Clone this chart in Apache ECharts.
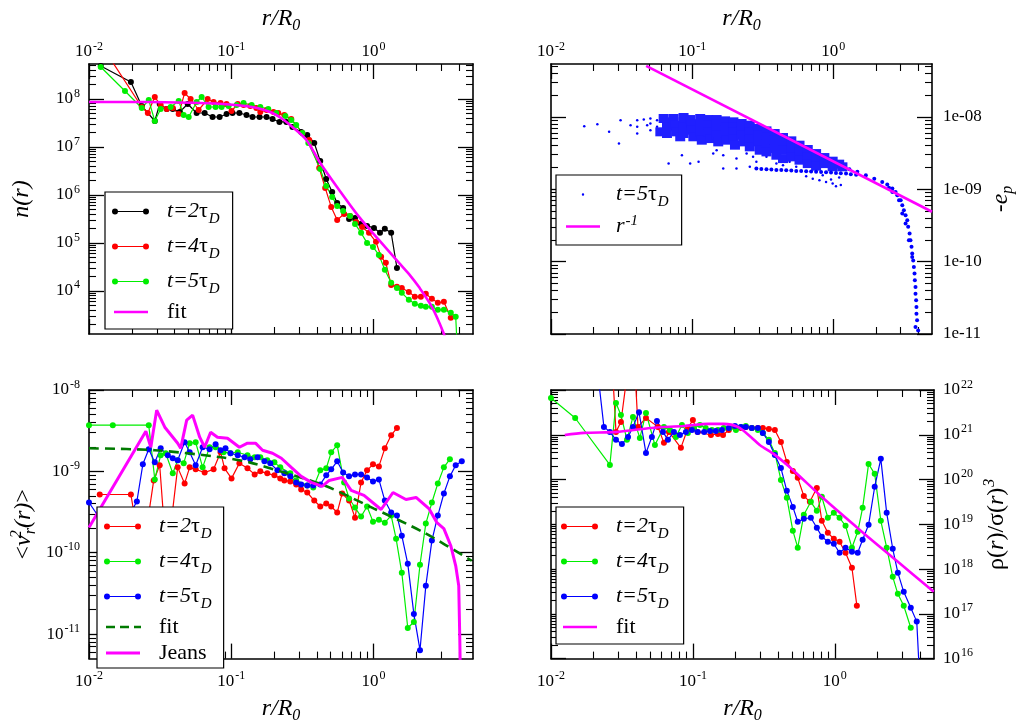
<!DOCTYPE html>
<html>
<head>
<meta charset="utf-8">
<script src="https://cdn.jsdelivr.net/npm/echarts@6/dist/echarts.min.js"></script>
<style>
  html, body { margin: 0; padding: 0; background: #fff; }
  #chart { width: 1017px; height: 725px; }
</style>
</head>
<body>
<div id="chart"></div>
<script>
// ---- data: [r/R0, value] ----
// top left: n(r)
const nT2 = [[0.0121,4.87e8],[0.0197,2.26e8],[0.0235,7.15e7],[0.029,3.48e7],[0.0314,7.87e7],[0.0352,6.19e7],[0.0388,6.19e7],[0.0434,5.36e7],[0.0494,7.87e7],[0.0571,5.11e7],[0.065,5.11e7],[0.0739,4.22e7],[0.0828,4.22e7],[0.0927,4.87e7],[0.102,5.11e7],[0.114,5.11e7],[0.128,4.64e7],[0.141,4.22e7],[0.158,4.22e7],[0.177,4.22e7],[0.195,3.83e7],[0.218,3.32e7],[0.244,3.32e7],[0.269,2.61e7],[0.310,2.05e7],[0.342,1.78e7],[0.383,1.21e7],[0.422,5.1e6],[0.465,2.15e6],[0.512,1.15e6],[0.555,6.81e5],[0.611,5.36e5],[0.673,3.16e5],[0.741,3.32e5],[0.817,2.49e5],[0.900,2.26e5],[1.007,2.05e5],[1.11,1.62e5],[1.20,1.96e5],[1.33,1.62e5],[1.46,3.01e4]];
const nT4 = [[0.0121,1.4e9],[0.0235,6.81e7],[0.0259,5.11e7],[0.029,1.10e8],[0.0319,7.5e7],[0.0352,6.19e7],[0.0388,6.49e7],[0.0427,4.87e7],[0.047,1.33e8],[0.0518,1.0e8],[0.059,5.9e7],[0.0682,1.0e8],[0.0751,8.66e7],[0.0841,8.25e7],[0.0927,7.87e7],[0.1004,5.62e7],[0.111,7.87e7],[0.122,7.5e7],[0.136,7.15e7],[0.150,6.49e7],[0.160,5.36e7],[0.177,5.9e7],[0.198,5.36e7],[0.214,5.11e7],[0.236,4.64e7],[0.264,3.83e7],[0.316,1.96e7],[0.353,1.40e7],[0.415,3.65e6],[0.457,1.40e6],[0.504,5.62e5],[0.555,3.01e5],[0.621,4.02e5],[0.684,3.65e5],[0.754,2.74e5],[0.830,2.15e5],[0.929,1.62e5],[1.04,1.05e5],[1.13,5.11e4],[1.22,3.83e4],[1.33,1.33e4],[1.46,1.21e4],[1.58,1.15e4],[1.77,9.5e3],[1.95,7.5e3],[2.15,7.5e3],[2.33,8.66e3],[2.57,6.81e3],[2.83,5.62e3],[3.12,5.9e3],[3.49,2.74e3]];
const nT5 = [[0.0121,4.64e8],[0.0179,1.47e8],[0.0235,6.49e7],[0.0263,9.5e7],[0.029,3.48e7],[0.0319,6.19e7],[0.0375,6.81e7],[0.0427,9.1e7],[0.0463,4.64e7],[0.0502,4.22e7],[0.0571,8.66e7],[0.0619,1.10e8],[0.0693,6.81e7],[0.0776,6.81e7],[0.0855,6.81e7],[0.0957,7.15e7],[0.109,7.5e7],[0.122,8.25e7],[0.139,7.5e7],[0.160,6.81e7],[0.182,6.19e7],[0.207,5.11e7],[0.240,4.42e7],[0.264,3.65e7],[0.286,2.87e7],[0.316,1.96e7],[0.348,1.21e7],[0.422,3.48e6],[0.465,1.54e6],[0.512,9.1e5],[0.555,5.9e5],[0.611,4.64e5],[0.684,3.65e5],[0.741,2.49e5],[0.817,1.62e5],[0.900,1.0e5],[0.991,8.25e4],[1.09,5.62e4],[1.20,2.74e4],[1.33,1.47e4],[1.46,1.15e4],[1.58,9.1e3],[1.77,6.49e3],[1.95,5.36e3],[2.15,4.87e3],[2.33,4.64e3],[2.57,4.64e3],[2.83,4.02e3],[3.12,4.02e3],[3.49,3.48e3],[3.78,2.87e3],[3.91,365]];
const nFit = [[0.01,8.66e7],[0.0267,8.66e7],[0.060,8.25e7],[0.0972,7.7e7],[0.134,6.97e7],[0.171,5.9e7],[0.195,5.11e7],[0.229,3.83e7],[0.269,2.61e7],[0.337,1.40e7],[0.422,4.64e6],[0.573,1.27e6],[0.791,3.48e5],[1.09,1.15e5],[1.51,3.83e4],[1.77,2.26e4],[2.08,1.21e4],[2.57,4.64e3],[3.12,1.27e3],[3.27,750]];

// top right: -e_p, particles at t=5 tau_D
const epBand = [[0.0595,6.21e-9],[0.0628,9.48e-9],[0.0663,8.53e-9],[0.0663,7.27e-9],[0.0663,5.89e-9],[0.0739,9.48e-9],[0.0759,7.67e-9],[0.078,6.21e-9],[0.0823,5.3e-9],[0.0869,9.8e-9],[0.0869,8.53e-9],[0.0869,7.27e-9],[0.0869,5.89e-9],[0.0968,9.18e-9],[0.0995,7.92e-9],[0.0995,6.54e-9],[0.102,5.3e-9],[0.114,9.48e-9],[0.114,8.09e-9],[0.114,6.9e-9],[0.114,5.89e-9],[0.117,4.76e-9],[0.130,9.18e-9],[0.130,7.67e-9],[0.130,6.21e-9],[0.134,5.01e-9],[0.149,9.18e-9],[0.149,7.92e-9],[0.149,6.68e-9],[0.149,5.58e-9],[0.153,4.51e-9],[0.171,8.8e-9],[0.171,7.27e-9],[0.171,5.89e-9],[0.175,4.76e-9],[0.196,8.53e-9],[0.196,7.27e-9],[0.196,6.21e-9],[0.196,5.01e-9],[0.201,4.06e-9],[0.224,8.09e-9],[0.224,6.68e-9],[0.224,5.58e-9],[0.23,4.51e-9],[0.256,7.67e-9],[0.256,6.21e-9],[0.256,5.01e-9],[0.256,3.85e-9],[0.293,6.9e-9],[0.293,5.58e-9],[0.293,4.51e-9],[0.301,3.46e-9],[0.336,6.4e-9],[0.336,5.3e-9],[0.336,4.28e-9],[0.336,3.28e-9],[0.384,5.89e-9],[0.384,4.76e-9],[0.384,3.65e-9],[0.395,2.95e-9],[0.44,5.18e-9],[0.44,4.28e-9],[0.44,3.46e-9],[0.44,2.65e-9],[0.504,4.66e-9],[0.504,3.65e-9],[0.504,2.8e-9],[0.576,4.06e-9],[0.576,3.28e-9],[0.576,2.52e-9],[0.659,3.54e-9],[0.659,2.8e-9],[0.659,2.26e-9],[0.755,3.11e-9],[0.755,2.52e-9],[0.755,2.08e-9],[0.864,2.74e-9],[0.864,2.26e-9],[0.989,2.44e-9],[0.989,2.04e-9],[1.10,2.22e-9],[1.16,2.04e-9]];
const epThin = [[1.30,1.89e-9],[1.48,1.74e-9],[1.70,1.56e-9],[1.95,1.40e-9],[2.22,1.26e-9],[2.41,1.16e-9],[2.48,1.05e-9],[2.62,1.02e-9],[2.62,9.18e-10],[2.76,9.18e-10],[2.84,8.26e-10],[2.92,7.05e-10],[3.0,7.05e-10],[3.08,6.01e-10],[3.08,4.61e-10],[3.16,5.13e-10],[3.25,4.38e-10],[3.25,3.35e-10],[3.34,3.73e-10],[3.39,3.02e-10],[3.43,1.97e-10],[3.47,2.44e-10],[3.52,1.97e-10],[3.58,1.6e-10],[3.62,1.29e-10],[3.62,1.16e-10],[3.68,1.04e-10],[3.72,8.44e-11],[3.76,6.83e-11],[3.78,5.52e-11],[3.82,4.47e-11],[3.82,3.61e-11],[3.86,2.92e-11],[3.88,2.36e-11],[3.88,1.91e-11],[3.92,1.55e-11],[3.82,1.25e-11],[3.99,1.12e-11],[0.285,1.93e-9],[0.309,1.91e-9],[0.336,1.89e-9],[0.364,1.87e-9],[0.395,1.85e-9],[0.428,1.84e-9],[0.464,1.83e-9],[0.504,1.81e-9],[0.546,1.79e-9],[0.592,1.78e-9],[0.642,1.77e-9],[0.696,1.76e-9],[0.755,1.74e-9],[0.819,1.73e-9],[0.888,1.72e-9],[0.963,1.70e-9],[1.044,1.68e-9],[1.13,1.66e-9],[1.23,1.65e-9],[1.33,1.61e-9],[1.45,1.58e-9]];
const epSparse = [[0.0172,7.43e-9],[0.0213,7.92e-9],[0.0258,6.21e-9],[0.0303,4.28e-9],[0.0311,8.99e-9],[0.0366,7.67e-9],[0.0408,5.89e-9],[0.0408,8.99e-9],[0.0408,7.27e-9],[0.0454,9.18e-9],[0.048,7.67e-9],[0.0506,9.48e-9],[0.0506,8.09e-9],[0.0506,6.54e-9],[0.0564,8.99e-9],[0.0564,7.27e-9],[0.0681,2.26e-9],[0.0846,2.95e-9],[0.0968,2.26e-9],[0.111,2.39e-9],[0.141,3.11e-9],[0.166,1.93e-9],[0.206,1.93e-9],[0.256,2.04e-9],[0.149,3.46e-9],[0.166,2.95e-9],[0.206,2.65e-9],[0.243,3.11e-9],[0.285,2.39e-9],[0.336,2.8e-9],[0.395,2.26e-9],[0.44,2.15e-9],[0.49,2.39e-9],[0.546,2.04e-9],[0.206,3.85e-9],[0.27,2.8e-9],[0.642,1.51e-9],[0.715,1.40e-9],[0.797,1.33e-9],[0.888,1.26e-9],[0.989,1.20e-9],[1.044,1.10e-9],[1.13,1.14e-9],[0.963,1.36e-9],[1.10,1.45e-9],[0.841,1.56e-9]];
const epRinv = [[0.0472,5.06e-8],[5,4.88e-10]];

// bottom left: <v_r^2(r)>
const v2T2 = [[0.0119,5.2e-10],[0.0197,5.2e-10],[0.0235,7.97e-11],[0.0285,7.74e-10],[0.0314,1.19e-9],[0.0352,7.97e-11],[0.042,1.12e-9],[0.047,7.11e-10],[0.051,1.12e-9],[0.0562,1.06e-9],[0.065,9.7e-10],[0.0751,1.06e-9],[0.0841,1.72e-9],[0.0897,1.09e-9],[0.1004,8.2e-10],[0.114,1.26e-9],[0.130,1.09e-9],[0.146,9.18e-10],[0.160,1.0e-9],[0.179,9.45e-10],[0.201,8.93e-10],[0.221,8.2e-10],[0.236,7.74e-10],[0.260,7.53e-10],[0.286,6.91e-10],[0.310,6.0e-10],[0.342,5.5e-10],[0.383,4.38e-10],[0.422,3.70e-10],[0.465,4.03e-10],[0.504,3.70e-10],[0.555,3.12e-10],[0.602,5.35e-10],[0.673,4.38e-10],[0.741,2.70e-10],[0.817,7.32e-10],[0.900,1.03e-9],[0.991,1.22e-9],[1.09,1.15e-9],[1.20,1.92e-9],[1.33,2.78e-9],[1.46,3.40e-9]];
const v2T4 = [[0.01,3.70e-9],[0.0147,3.70e-9],[0.0263,3.70e-9],[0.029,7.97e-10],[0.0319,1.58e-9],[0.0346,1.67e-9],[0.0388,9.45e-10],[0.042,1.37e-9],[0.0463,1.26e-9],[0.051,2.22e-9],[0.0562,2.28e-9],[0.0629,1.12e-9],[0.0704,1.98e-9],[0.0776,1.98e-9],[0.0882,1.72e-9],[0.0988,1.67e-9],[0.111,1.72e-9],[0.130,1.58e-9],[0.146,1.49e-9],[0.160,1.49e-9],[0.179,1.37e-9],[0.201,1.29e-9],[0.221,1.12e-9],[0.260,9.45e-10],[0.286,7.74e-10],[0.342,6.72e-10],[0.377,6.34e-10],[0.422,1.03e-9],[0.465,1.09e-9],[0.504,1.72e-9],[0.555,2.09e-9],[0.621,7.32e-10],[0.673,4.64e-10],[0.741,3.6e-10],[0.817,2.78e-10],[0.900,3.70e-10],[0.991,2.41e-10],[1.09,2.55e-10],[1.20,2.34e-10],[1.33,2.86e-10],[1.44,1.49e-10],[1.58,5.66e-11],[1.74,1.19e-11],[1.92,1.41e-11],[2.12,7.11e-11],[2.33,2.28e-10],[2.57,4.14e-10],[2.83,7.11e-10],[3.12,1.12e-9],[3.44,1.41e-9]];
const v2T5 = [[0.01,4.14e-10],[0.0152,1.41e-10],[0.0217,4.26e-10],[0.0239,1.22e-9],[0.0263,1.87e-9],[0.029,1.29e-9],[0.0319,1.92e-9],[0.0358,1.58e-9],[0.0388,1.45e-9],[0.042,1.37e-9],[0.047,2.28e-9],[0.051,1.72e-9],[0.0562,1.19e-9],[0.0629,1.98e-9],[0.0704,1.87e-9],[0.0776,2.15e-9],[0.0841,1.82e-9],[0.0911,1.92e-9],[0.0988,1.67e-9],[0.111,1.58e-9],[0.124,1.49e-9],[0.136,1.41e-9],[0.153,1.49e-9],[0.171,1.33e-9],[0.188,1.26e-9],[0.211,1.03e-9],[0.236,9.45e-10],[0.260,8.68e-10],[0.286,7.32e-10],[0.310,6.91e-10],[0.342,6.72e-10],[0.377,6.72e-10],[0.422,6.91e-10],[0.465,8.93e-10],[0.504,1.06e-9],[0.555,1.33e-9],[0.611,9.7e-10],[0.673,8.68e-10],[0.741,9.18e-10],[0.817,9.18e-10],[0.900,8.43e-10],[0.991,7.53e-10],[1.09,7.97e-10],[1.20,4.38e-10],[1.33,3.12e-10],[1.46,2.86e-10],[1.58,1.62e-10],[1.74,7.31e-11],[1.92,1.77e-11],[2.12,6.34e-12],[2.33,3.92e-11],[2.57,1.41e-10],[2.83,2.86e-10],[3.12,5.35e-10],[3.44,8.68e-10],[3.78,1.19e-9],[4.17,1.33e-9]];
const v2Fit = [[0.01,1.92e-9],[0.029,1.82e-9],[0.0841,1.49e-9],[0.134,1.29e-9],[0.221,1.0e-9],[0.45,6.72e-10],[1.007,3.49e-10],[2.26,1.77e-10],[4.9,7.97e-11]];
const v2Jeans = [[0.01,2.04e-10],[0.0251,3.12e-9],[0.0272,1.98e-9],[0.0299,5.66e-9],[0.0341,3.49e-9],[0.042,2.22e-9],[0.0441,1.92e-9],[0.0486,4.26e-9],[0.0535,4.91e-9],[0.060,2.63e-9],[0.065,1.98e-9],[0.0716,3.03e-9],[0.080,2.63e-9],[0.0941,2.55e-9],[0.114,1.98e-9],[0.130,2.22e-9],[0.148,2.22e-9],[0.166,1.82e-9],[0.195,1.67e-9],[0.225,1.45e-9],[0.264,1.12e-9],[0.310,8.68e-10],[0.365,7.32e-10],[0.435,6.53e-10],[0.488,7.74e-10],[0.602,8.43e-10],[0.696,5.83e-10],[0.857,5.06e-10],[1.13,3.40e-10],[1.37,5.5e-10],[1.69,4.51e-10],[1.99,4.78e-10],[2.45,3.49e-10],[2.79,2.34e-10],[3.12,1.98e-10],[3.49,1.22e-10],[3.78,6.91e-11],[3.97,3.92e-11],[4.04,8.2e-12],[4.1,1.49e-12]];

// bottom right: rho(r)/sigma(r)^3
const rsT2 = [[0.0269,4.7e22],[0.0287,1.16e21],[0.0311,1.93e21],[0.0378,2.2e23],[0.041,1.5e21],[0.0467,2.37e21],[0.0567,1.5e21],[0.0625,6.6e20],[0.0678,1.16e21],[0.0823,5.1e20],[0.0922,1.42e21],[0.1,2.14e21],[0.108,1.16e21],[0.134,9.9e20],[0.15,1.04e21],[0.163,9.9e20],[0.179,1.28e21],[0.198,1.5e21],[0.218,1.42e21],[0.236,1.5e21],[0.26,1.42e21],[0.287,1.42e21],[0.311,1.42e21],[0.343,1.35e21],[0.378,1.28e21],[0.417,6.9e20],[0.459,2.48e20],[0.506,1.56e20],[0.548,1.09e20],[0.605,4.3e19],[0.667,3.18e19],[0.747,6.5e19],[0.81,1.2e19],[0.893,6.46e18],[0.984,4.74e18],[1.08,4.06e18],[1.19,2.31e18],[1.32,1.07e18],[1.43,1.52e17]];
const rsT4 = [[0.01,6.6e21],[0.0148,2.37e21],[0.026,2.12e20],[0.0287,5.1e21],[0.0311,2.77e21],[0.0343,7.7e20],[0.0378,2.5e21],[0.0423,8.5e20],[0.0467,3.07e21],[0.054,5.9e20],[0.0625,1.5e21],[0.0689,1.28e21],[0.0759,8.97e20],[0.0837,1.66e21],[0.0922,1.1e21],[0.1016,1.42e21],[0.112,1.66e21],[0.123,1.42e21],[0.136,1.28e21],[0.15,1.28e21],[0.165,1.42e21],[0.182,1.42e21],[0.201,1.28e21],[0.218,1.5e21],[0.236,1.57e21],[0.26,1.42e21],[0.287,1.28e21],[0.311,1.1e21],[0.343,7.7e20],[0.378,3.9e20],[0.417,9.8e19],[0.459,3.9e19],[0.506,7.2e18],[0.548,3.0e18],[0.605,1.63e19],[0.678,3.18e19],[0.747,2.0e19],[0.81,4.1e19],[0.893,1.4e19],[0.984,1.8e19],[1.08,1.4e19],[1.19,9.25e18],[1.32,3.0e18],[1.45,6.8e18],[1.57,2.33e19],[1.73,2.23e20],[1.91,1.34e20],[2.11,1.2e19],[2.32,3.0e18],[2.56,6.7e17],[2.78,2.8e17],[3.06,1.52e17],[3.43,4.9e16]];
const rsT5 = [[0.0212,3e22],[0.0236,1.5e21],[0.026,1.16e21],[0.0287,7.7e20],[0.0316,6.2e20],[0.0349,8.96e20],[0.0378,1.5e21],[0.0417,3.2e21],[0.0467,3.9e20],[0.0514,8.96e20],[0.0558,2.04e21],[0.0615,1.16e21],[0.0667,7.7e20],[0.0735,1.16e21],[0.081,9.9e20],[0.0892,1.16e21],[0.0984,1.28e21],[0.108,1.16e21],[0.12,1.16e21],[0.132,1.22e21],[0.145,1.22e21],[0.16,1.28e21],[0.179,1.42e21],[0.198,1.57e21],[0.218,1.5e21],[0.236,1.5e21],[0.26,1.42e21],[0.287,1.42e21],[0.311,1.1e21],[0.343,6.9e20],[0.378,3.55e20],[0.417,1.82e20],[0.459,5.6e19],[0.506,2.45e19],[0.548,1.14e19],[0.605,1.33e19],[0.678,1.4e19],[0.747,8.4e18],[0.81,5.3e18],[0.893,4.06e18],[0.984,3.67e18],[1.08,2.31e18],[1.19,3.0e18],[1.32,2.43e18],[1.45,2.31e18],[1.57,4.5e18],[1.73,9.75e18],[1.91,6.9e19],[2.11,2.9e20],[2.32,1.8e19],[2.56,2.84e18],[2.78,8.3e17],[3.06,3.1e17],[3.43,1.37e17],[3.78,6.7e16],[4.03,1.2e15]];
const rsFit = [[0.0125,9.9e20],[0.0171,1.1e21],[0.0296,1.16e21],[0.0506,1.42e21],[0.0865,1.57e21],[0.128,1.75e21],[0.165,1.75e21],[0.207,1.5e21],[0.256,8.96e20],[0.296,5.9e20],[0.378,3.55e20],[0.506,1.64e20],[0.823,3.9e19],[1.5,7.5e18],[2.73,1.53e18],[4.98,3.1e17]];

// axis ranges (decades)
const xRange = [-2, Math.log10(5)];
const yRangeN = [3.1, 8.73];
const yRangeEp = [-11, -7.27];
const yRangeV2 = [Math.log10(5e-12), -8];
const yRangeRs = [16, 22];

// ---- helpers ----
const FONT = 'Liberation Serif';
const lg = Math.log10;
const BLACK = '#000000', RED = '#ff0000', GREEN = '#00ee00', BLUE = '#0000ff', MAG = '#ff00ff', DKGREEN = '#007a00';

function majorTicks(a, b) {
  const t = [];
  for (let n = Math.ceil(a - 1e-9); n <= b + 1e-9; n++) t.push(n);
  return t;
}
function minorTicks(a, b) {
  const t = [];
  for (let n = Math.floor(a); n <= Math.ceil(b); n++) {
    for (let k = 2; k <= 9; k++) {
      const v = n + lg(k);
      if (v > a + 1e-6 && v < b - 1e-6) t.push(v);
    }
  }
  return t;
}

const tickRich = {
  b: { fontFamily: FONT, fontSize: 17, lineHeight: 20, color: '#000' },
  s: { fontFamily: FONT, fontSize: 12, lineHeight: 12, padding: [0, 0, 11, 1], color: '#000' }
};
const nameRich = {
  i: { fontFamily: FONT, fontStyle: 'italic', fontSize: 24, lineHeight: 26, color: '#000' },
  n: { fontFamily: FONT, fontSize: 24, lineHeight: 26, color: '#000' },
  sub: { fontFamily: FONT, fontStyle: 'italic', fontSize: 16, lineHeight: 16, padding: [14, 0, 0, 0], color: '#000' },
  sup: { fontFamily: FONT, fontStyle: 'italic', fontSize: 16, lineHeight: 16, padding: [0, 0, 14, 1], color: '#000' },
  supz: { fontFamily: FONT, fontStyle: 'italic', fontSize: 16, lineHeight: 16, padding: [0, 0, 14, 1], width: 0, color: '#000' }
};
const powFmt = v => '{b|10}{s|' + Math.round(v) + '}';
const expFmt = v => { const n = -Math.round(v); return '1e-' + (n < 10 ? '0' + n : n); };

// 4 axes per dimension and grid: major + minor ticks on both sides
function axes(dim, grid, range, o) {
  const sides = dim === 'x' ? ['bottom', 'top'] : ['left', 'right'];
  const maj = majorTicks(range[0], range[1]);
  const mnr = minorTicks(range[0], range[1]);
  const out = [];
  sides.forEach(side => {
    const lab = side === o.labelSide;
    out.push({
      type: 'value', gridIndex: grid, position: side, min: range[0], max: range[1],
      axisLine: { show: true, onZero: false, lineStyle: { color: '#000', width: 1.6 } },
      axisTick: { show: true, inside: true, length: 15, customValues: maj, lineStyle: { color: '#000', width: 1.3 } },
      axisLabel: { show: lab, customValues: maj, formatter: o.fmt, margin: o.margin, rich: tickRich,
                   fontFamily: FONT, fontSize: 17, color: '#000' },
      splitLine: { show: false },
      name: lab ? o.name : '', nameLocation: 'middle', nameGap: o.nameGap, nameRotate: o.nameRotate,
      nameTextStyle: { rich: nameRich }
    });
    out.push({
      type: 'value', gridIndex: grid, position: side, min: range[0], max: range[1],
      axisLine: { show: false, onZero: false },
      axisTick: { show: true, inside: true, length: 7, customValues: mnr, lineStyle: { color: '#000', width: 1.1 } },
      axisLabel: { show: false }, splitLine: { show: false }
    });
  });
  return out;
}

const toLog = arr => arr.map(p => [lg(p[0]), lg(p[1])]);

function dataLine(name, g, data, color) {
  return { type: 'line', name, xAxisIndex: 4 * g, yAxisIndex: 4 * g, data: toLog(data),
    symbol: 'circle', symbolSize: 6, showSymbol: true, itemStyle: { color },
    lineStyle: { color, width: 1.2 }, emphasis: { disabled: true }, z: 3 };
}
function fitLine(name, g, data, color, width, extra) {
  return Object.assign({ type: 'line', name, xAxisIndex: 4 * g, yAxisIndex: 4 * g, data: toLog(data),
    symbol: 'none', itemStyle: { color }, lineStyle: { color, width },
    emphasis: { disabled: true }, z: 4 }, extra || {});
}
function cloud(name, data, symbol, size, color) {
  return { type: 'scatter', name, xAxisIndex: 4, yAxisIndex: 4, data: toLog(data),
    symbol, symbolSize: size, itemStyle: { color, opacity: 1 }, emphasis: { disabled: true }, z: 3 };
}

// legend icons (box 50 x 14)
const BOX = 'M0,0L0,0ZM50,14L50,14Z';
const ICON_DOTS = 'path://' + BOX + 'M3,6.4L34,6.4L34,7.6L3,7.6ZM0,7A3,3 0 1 1 6,7A3,3 0 1 1 0,7ZM31,7A3,3 0 1 1 37,7A3,3 0 1 1 31,7Z';
const ICON_FIT = 'path://' + BOX + 'M2,5.7L36,5.7L36,8.3L2,8.3Z';
const ICON_JEANS = 'path://' + BOX + 'M2,5.4L36,5.4L36,8.6L2,8.6Z';
const ICON_DASH = 'path://' + BOX + 'M2,5.8L11,5.8L11,8.2L2,8.2ZM16,5.8L25,5.8L25,8.2L16,8.2ZM30,5.8L37,5.8L37,8.2L30,8.2Z';
const ICON_DOT = 'path://' + BOX + 'M20.8,7A1.2,1.2 0 1 1 23.2,7A1.2,1.2 0 1 1 20.8,7Z';
const ICON_RINV = 'path://' + BOX + 'M5,5.7L39,5.7L39,8.3L5,8.3Z';

const T2 = '{i|t=2}{n|τ}{d|D}', T4 = '{i|t=4}{n|τ}{d|D}', T5 = '{i|t=5}{n|τ}{d|D}';
const legendText = {
  a2: T2, a4: T4, a5: T5, afit: '{n|fit}',
  b5: T5, binv: '{i|r}{p|-1}',
  c2: T2, c4: T4, c5: T5, cfit: '{n|fit}', cjeans: '{n|Jeans}',
  d2: T2, d4: T4, d5: T5, dfit: '{n|fit}'
};
const legendIcon = {
  a2: ICON_DOTS, a4: ICON_DOTS, a5: ICON_DOTS, afit: ICON_FIT,
  b5: ICON_DOT, binv: ICON_RINV,
  c2: ICON_DOTS, c4: ICON_DOTS, c5: ICON_DOTS, cfit: ICON_DASH, cjeans: ICON_JEANS,
  d2: ICON_DOTS, d4: ICON_DOTS, d5: ICON_DOTS, dfit: ICON_FIT
};
const legRich = {
  i: { fontFamily: FONT, fontStyle: 'italic', fontSize: 22, lineHeight: 22, color: '#000' },
  n: { fontFamily: FONT, fontSize: 22, lineHeight: 22, color: '#000' },
  d: { fontFamily: FONT, fontStyle: 'italic', fontSize: 15, lineHeight: 19, padding: [16, 0, 0, 1], color: '#000' },
  p: { fontFamily: FONT, fontStyle: 'italic', fontSize: 15, lineHeight: 15, padding: [0, 0, 10, 1], color: '#000' }
};
function legend(names, left, top, padding, gap) {
  return { show: true, orient: 'vertical', left, top, padding, itemGap: gap,
    itemWidth: 50, itemHeight: 14, align: 'left', selectedMode: false,
    data: names.map(n => ({ name: n, icon: legendIcon[n] })),
    formatter: n => legendText[n], textStyle: { rich: legRich },
    borderColor: '#000', borderWidth: 1.2, backgroundColor: '#fff', z: 10 };
}

const rR0 = '{i|r/R}{sub|0}';

const option = {
  animation: false,
  backgroundColor: '#fff',
  textStyle: { fontFamily: FONT },
  grid: [
    { left: 89, top: 64, width: 384, height: 270 },
    { left: 551, top: 64, width: 383, height: 270 },
    { left: 89, top: 390, width: 384, height: 269 },
    { left: 551, top: 390, width: 383, height: 269 }
  ],
  xAxis: [].concat(
    axes('x', 0, xRange, { labelSide: 'top', fmt: powFmt, margin: 2, name: rR0, nameGap: 32 }),
    axes('x', 1, xRange, { labelSide: 'top', fmt: powFmt, margin: 2, name: rR0, nameGap: 32 }),
    axes('x', 2, xRange, { labelSide: 'bottom', fmt: powFmt, margin: 13, name: rR0, nameGap: 36 }),
    axes('x', 3, xRange, { labelSide: 'bottom', fmt: powFmt, margin: 13, name: rR0, nameGap: 36 })
  ),
  yAxis: [].concat(
    axes('y', 0, yRangeN, { labelSide: 'left', fmt: powFmt, margin: 9, name: '{i|n(r)}', nameGap: 54, nameRotate: 90 }),
    axes('y', 1, yRangeEp, { labelSide: 'right', fmt: expFmt, margin: 11, name: '{n|-}{i|e}{sub|p}', nameGap: 56, nameRotate: 90 }),
    axes('y', 2, yRangeV2, { labelSide: 'left', fmt: powFmt, margin: 9, name: '{n|<}{i|v}{supz|2}{sub|r}{i|(r)}{n|>}', nameGap: 52, nameRotate: 90 }),
    axes('y', 3, yRangeRs, { labelSide: 'right', fmt: powFmt, margin: 9, name: '{n|ρ(}{i|r}{n|)/σ(}{i|r}{n|)}{sup|3}', nameGap: 50, nameRotate: 90 })
  ),
  legend: [
    legend(['a2', 'a4', 'a5', 'afit'], 105, 192, [4, 13, 6, 7], 4),
    legend(['b5', 'binv'], 556, 175, [4, 13, 6, 5], 4),
    legend(['c2', 'c4', 'c5', 'cfit', 'cjeans'], 97, 507, [4, 12, 4, 7], 4),
    legend(['d2', 'd4', 'd5', 'dfit'], 556, 507, [4, 15, 6, 5], 4)
  ],
  series: [
    dataLine('a2', 0, nT2, BLACK),
    dataLine('a4', 0, nT4, RED),
    dataLine('a5', 0, nT5, GREEN),
    fitLine('afit', 0, nFit, MAG, 2.6, { smooth: 0.3 }),

    cloud('b5', epSparse, 'circle', 2.5, BLUE),
    cloud('b5', epBand, 'rect', [10, 9], '#2020ff'),
    cloud('b5', epThin, 'circle', 4, BLUE),
    fitLine('binv', 1, epRinv, MAG, 2.6),

    dataLine('c2', 2, v2T2, RED),
    dataLine('c4', 2, v2T4, GREEN),
    dataLine('c5', 2, v2T5, BLUE),
    fitLine('cfit', 2, v2Fit, DKGREEN, 2.6, { smooth: 0.3, lineStyle: { color: DKGREEN, width: 2.6, type: [10, 6] } }),
    fitLine('cjeans', 2, v2Jeans, MAG, 3),

    dataLine('d2', 3, rsT2, RED),
    dataLine('d4', 3, rsT4, GREEN),
    dataLine('d5', 3, rsT5, BLUE),
    fitLine('dfit', 3, rsFit, MAG, 2.6, { smooth: 0.3 })
  ]
};

const chart = echarts.init(document.getElementById('chart'));
chart.setOption(option);
</script>
</body>
</html>
